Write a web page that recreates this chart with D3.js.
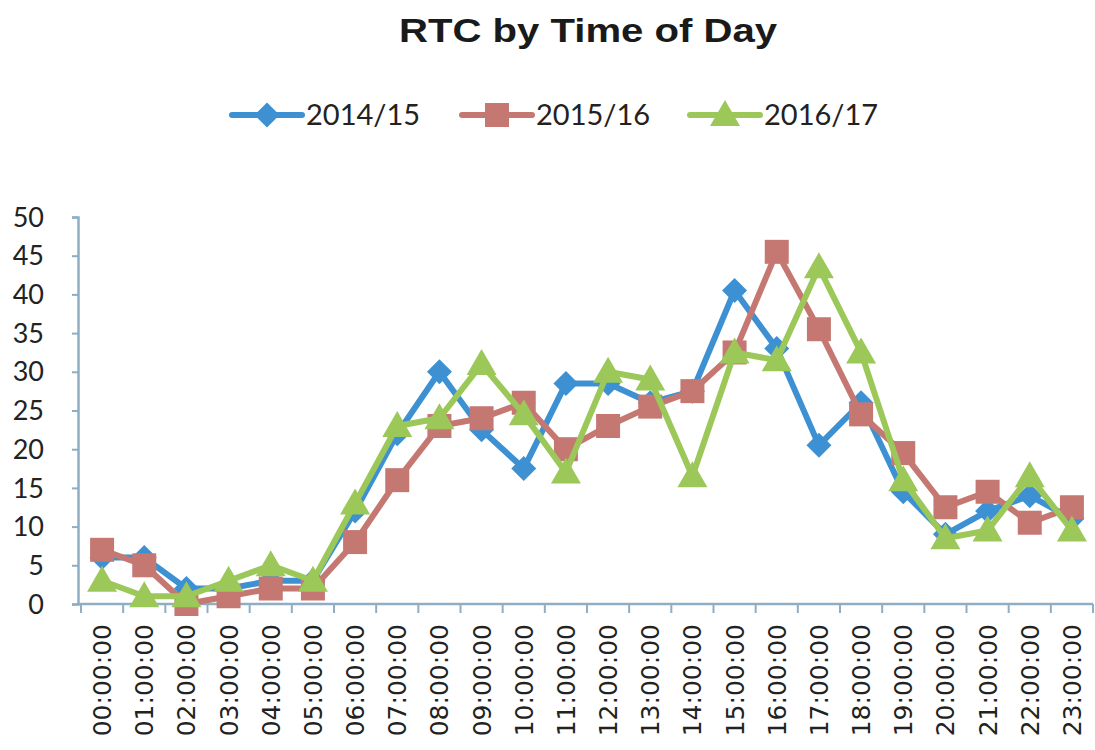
<!DOCTYPE html>
<html>
<head>
<meta charset="utf-8">
<script src="https://cdn.jsdelivr.net/npm/d3@7"></script>
<style>
  html, body { margin: 0; padding: 0; background: #fff; }
  svg { display: block; }
</style>
</head>
<body>
<svg id="chart" width="1095" height="750"></svg>
<script>
// Hours of the day
const hours = ["00:00:00","01:00:00","02:00:00","03:00:00","04:00:00","05:00:00",
  "06:00:00","07:00:00","08:00:00","09:00:00","10:00:00","11:00:00",
  "12:00:00","13:00:00","14:00:00","15:00:00","16:00:00","17:00:00",
  "18:00:00","19:00:00","20:00:00","21:00:00","22:00:00","23:00:00"];

// RTC counts per hour, one array per year
const rtc2014 = [6, 6, 2, 2, 3, 3, 12, 22, 30, 22.5, 17.5, 28.5, 28.5, 26, 27.5, 40.5, 33, 20.5, 26, 14.5, 9, 12, 14, 11];
const rtc2015 = [7, 5, 0, 1, 2, 2, 8, 16, 23, 24, 26, 20, 23, 25.5, 27.5, 32.5, 45.5, 35.5, 24.5, 19.5, 12.5, 14.5, 10.5, 12.5];
const rtc2016 = [3, 1, 1, 3, 5, 3, 13, 23, 24, 31, 24.5, 17, 30, 29, 16.5, 32.5, 31.5, 43.5, 32.5, 16, 8.5, 9.5, 16.5, 9.5];

const seriesNames = ["2014/15", "2015/16", "2016/17"];
const yTicks = [0, 5, 10, 15, 20, 25, 30, 35, 40, 45, 50];

const series = [
  { name: seriesNames[0], values: rtc2014, color: "#3d91d3", marker: "diamond" },
  { name: seriesNames[1], values: rtc2015, color: "#c57872", marker: "square" },
  { name: seriesNames[2], values: rtc2016, color: "#9cc85a", marker: "triangle" }
];

const svg = d3.select("#chart");
const axisColor = "#8eaec6";

const x = d3.scaleBand().domain(hours).range([81, 1093]);
const y = d3.scaleLinear().domain([0, 50]).range([604, 217]);
const cx = h => x(h) + x.bandwidth() / 2;

// Title
svg.append("text")
  .attr("transform", "translate(588,42) scale(1.18,1)")
  .attr("text-anchor", "middle")
  .attr("font-family", "Liberation Sans, Arial, sans-serif")
  .attr("font-weight", "bold")
  .attr("font-size", 34)
  .attr("fill", "#1a1a1a")
  .text("RTC by Time of Day");

// Marker shapes: wide diamond, square, broad triangle
const markerPath = {
  diamond: "M0,-12.5L12.5,0L0,12.5L-12.5,0Z",
  square: "M-12,-12H12V12H-12Z",
  triangle: "M0,-15L15,11H-15Z"
};

// Y axis
const yAxis = svg.append("g")
  .attr("transform", "translate(78,0)")
  .call(d3.axisLeft(y).tickValues(yTicks).tickSize(6).tickPadding(28));
yAxis.select(".domain").attr("stroke", axisColor).attr("stroke-width", 2.5);
yAxis.selectAll(".tick line").attr("stroke", axisColor).attr("stroke-width", 2);
yAxis.selectAll(".tick text")
  .attr("font-family", "Lato, 'Open Sans', sans-serif")
  .attr("font-size", 27)
  .attr("fill", "#222")
  .attr("dy", "0.34em");

// X axis with ticks between categories
const xAxisG = svg.append("g").attr("transform", "translate(0,604)");
xAxisG.append("line")
  .attr("x1", 78).attr("x2", 1093)
  .attr("y1", 0).attr("y2", 0)
  .attr("stroke", axisColor).attr("stroke-width", 2.5);
const boundaries = hours.map(h => x(h)).concat([x.range()[1]]);
xAxisG.selectAll("line.tk").data(boundaries).join("line")
  .attr("class", "tk")
  .attr("x1", d => d).attr("x2", d => d)
  .attr("y1", 0).attr("y2", 9)
  .attr("stroke", axisColor).attr("stroke-width", 2);
xAxisG.selectAll("text").data(hours).join("text")
  .attr("transform", d => `translate(${cx(d) + 9},20) rotate(-90)`)
  .attr("text-anchor", "end")
  .attr("font-family", "DejaVu Sans, sans-serif")
  .attr("font-size", 25)
  .attr("fill", "#222")
  .text(d => d);

// Lines and markers
const line = d3.line().x((d, i) => cx(hours[i])).y(d => y(d));
series.forEach(s => {
  const g = svg.append("g");
  g.append("path")
    .datum(s.values)
    .attr("d", line)
    .attr("fill", "none")
    .attr("stroke", s.color)
    .attr("stroke-width", 6)
    .attr("stroke-linejoin", "round");
  g.selectAll("path.mk").data(s.values).join("path")
    .attr("class", "mk")
    .attr("d", markerPath[s.marker])
    .attr("transform", (d, i) => `translate(${cx(hours[i])},${y(d)})`)
    .attr("fill", s.color);
});

// Legend
const legendX = [232, 462, 690];
series.forEach((s, i) => {
  const g = svg.append("g").attr("transform", `translate(${legendX[i]},115)`);
  g.append("line")
    .attr("x1", 0).attr("x2", 70).attr("y1", 0).attr("y2", 0)
    .attr("stroke", s.color).attr("stroke-width", 6)
    .attr("stroke-linecap", "round");
  g.append("path")
    .attr("d", markerPath[s.marker])
    .attr("transform", "translate(35,0)")
    .attr("fill", s.color);
  g.append("text")
    .attr("x", 74).attr("y", 0).attr("dy", "0.36em")
    .attr("font-family", "Lato, 'Open Sans', sans-serif")
    .attr("font-size", 29)
    .attr("fill", "#222")
    .text(s.name);
});
</script>
</body>
</html>
